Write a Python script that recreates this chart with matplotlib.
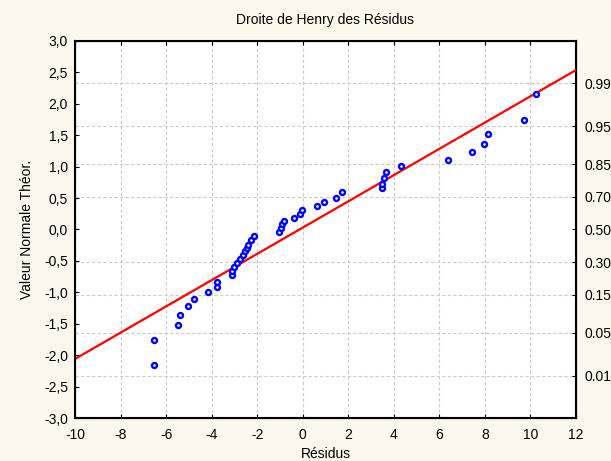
import matplotlib
matplotlib.use("Agg")
import matplotlib.pyplot as plt
from matplotlib.ticker import FuncFormatter
from statistics import NormalDist

plt.rcParams['font.family'] = ['Liberation Sans', 'DejaVu Sans']
plt.rcParams['axes.unicode_minus'] = False

# residuals (x) and expected normal values (y)
residus = [-6.53, -6.53, -5.48, -5.39, -5.04, -4.77, -4.16, -3.78, -3.78,
           -3.10, -3.10, -3.02, -2.89, -2.75, -2.62, -2.53, -2.45, -2.40,
           -2.27, -2.14, -1.04, -0.95, -0.91, -0.82, -0.38, -0.12, -0.03,
           0.63, 0.94, 1.48, 1.73, 3.50, 3.50, 3.57, 3.66, 4.32, 6.38,
           7.44, 7.96, 8.14, 9.72, 10.25]
valeurs = [-2.16, -1.76, -1.52, -1.36, -1.22, -1.10, -1.00, -0.91, -0.84,
           -0.73, -0.66, -0.60, -0.53, -0.47, -0.41, -0.35, -0.29, -0.24,
           -0.17, -0.10, -0.04, 0.02, 0.09, 0.14, 0.19, 0.24, 0.31,
           0.37, 0.44, 0.50, 0.59, 0.66, 0.73, 0.82, 0.91, 1.01, 1.10,
           1.23, 1.36, 1.52, 1.74, 2.16]

# fitted line
pente = 0.209
ordonnee = 0.03

x_ticks = list(range(-10, 13, 2))
y_ticks = [-3.0, -2.5, -2.0, -1.5, -1.0, -0.5, 0.0, 0.5, 1.0, 1.5, 2.0, 2.5, 3.0]
probas = [0.01, 0.05, 0.15, 0.30, 0.50, 0.70, 0.85, 0.95, 0.99]

fs = 10

fig = plt.figure(figsize=(6.11, 4.61), dpi=100, facecolor='#fdf8ec')
ax = fig.add_axes([75 / 611, 43 / 461, 501 / 611, 377 / 461])
ax.set_facecolor('white')

z_probas = [NormalDist().inv_cdf(p) for p in probas]

ax.set_xlim(-10, 12)
ax.set_ylim(-3, 3)
ax.set_xticks(x_ticks)
ax.set_yticks(y_ticks)
ax.set_yticks(z_probas, minor=True)
ax.yaxis.set_major_formatter(FuncFormatter(lambda v, p: f"{v:.1f}".replace('.', ',')))
ax.tick_params(axis='both', which='major', direction='in', length=3, labelsize=fs,
               top=True)
ax.tick_params(axis='x', which='major', pad=7)
ax.tick_params(axis='y', which='major', pad=5)
ax.tick_params(axis='y', which='minor', length=0)

grid_style = dict(color='#cccccc', linestyle=(0, (3, 2)), linewidth=0.8)
ax.xaxis.grid(True, which='major', **grid_style)
ax.yaxis.grid(True, which='minor', **grid_style)
ax.set_axisbelow(True)

xl = [-10, 12]
ax.plot(xl, [ordonnee + pente * v for v in xl], color='red', linewidth=1.6, zorder=3)
ax.plot(residus, valeurs, linestyle='none', marker='o', markersize=3.6,
        markerfacecolor='white', markeredgecolor='blue', markeredgewidth=1.7, zorder=4)

for sp in ax.spines.values():
    sp.set_linewidth(1.5)

ax2 = ax.twinx()
ax2.set_ylim(-3, 3)
ax2.set_yticks(z_probas)
ax2.set_yticklabels([f"{p:.2f}" for p in probas])
ax2.tick_params(axis='y', direction='in', length=3, labelsize=fs, pad=6)

ax.set_title("Droite de Henry des Résidus", fontsize=fs, pad=12)
ax.set_xlabel("Résidus", fontsize=fs, labelpad=4)
ax.set_ylabel("Valeur Normale Théor.", fontsize=fs, labelpad=7)

fig.savefig("out.png", dpi=100, facecolor=fig.get_facecolor())
